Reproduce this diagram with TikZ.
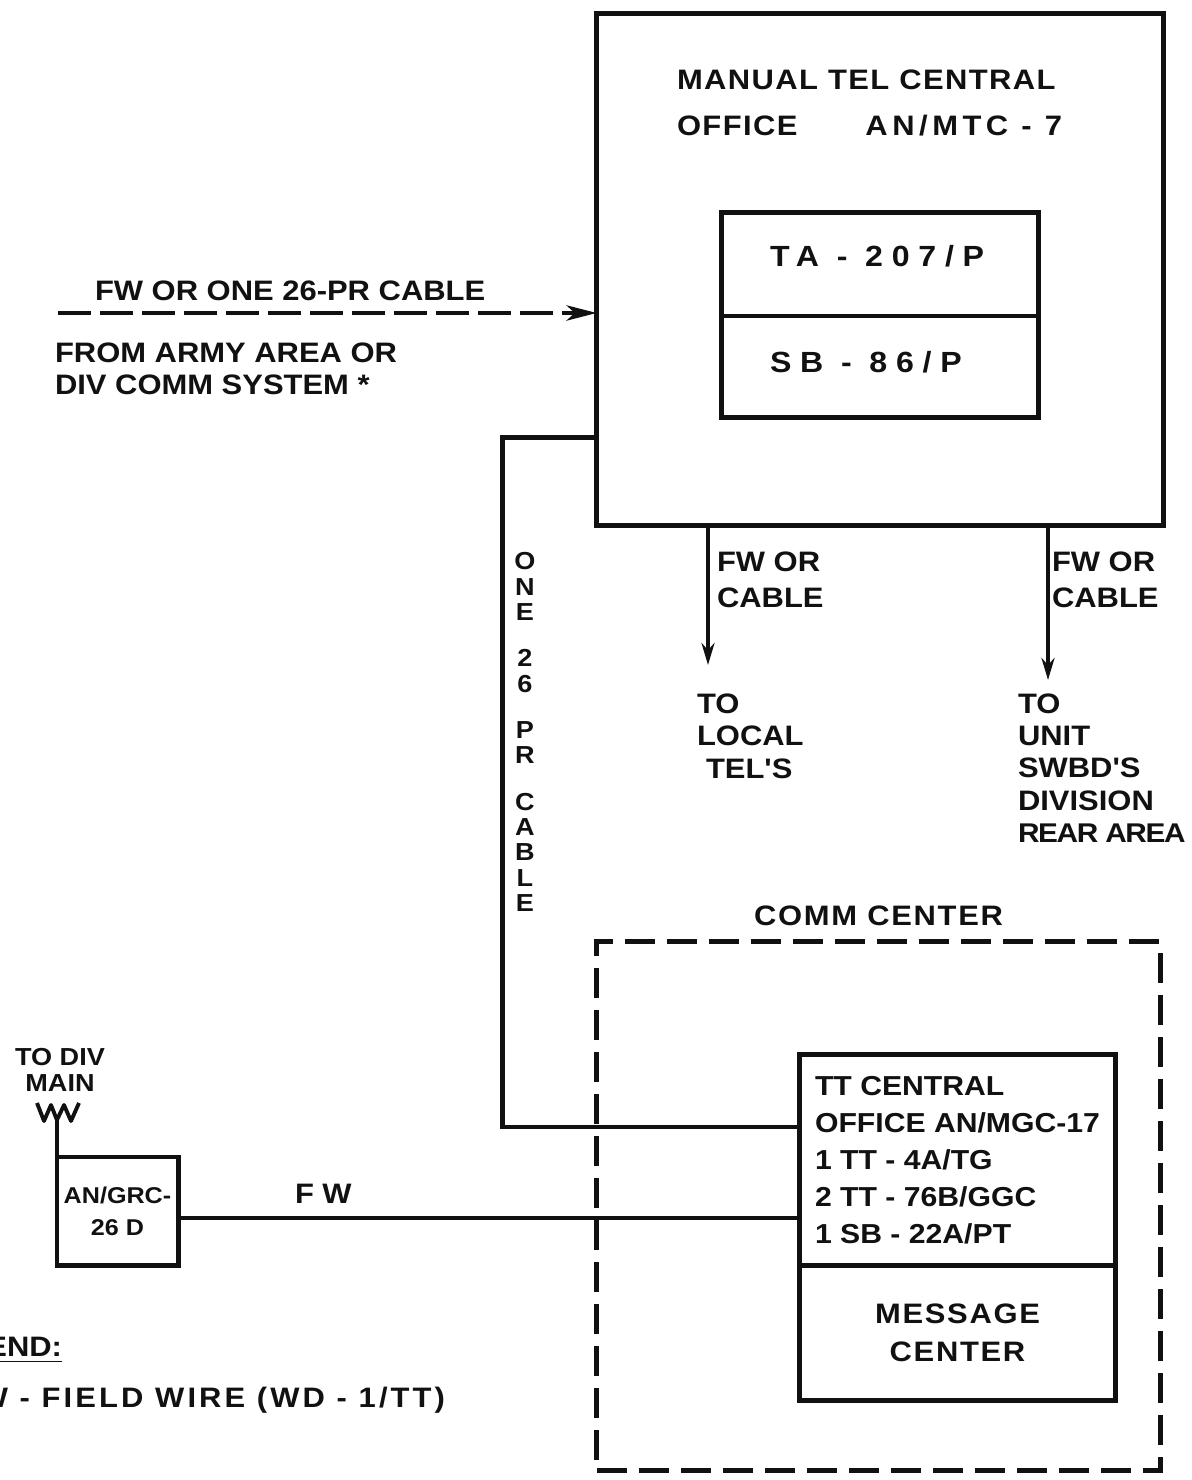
\documentclass[tikz,border=0pt]{standalone}
\usepackage{fontspec}
\newfontfamily\lettering[FakeStretch=1.1]{Liberation Sans}
\usetikzlibrary{arrows.meta,positioning}
\definecolor{ink}{HTML}{111111}
\tikzset{
  every node/.style={font=\lettering\bfseries\fontsize{8}{9.2}\selectfont, text=ink},
  box/.style={draw=ink, line width=1.4pt, outer sep=0pt, inner sep=0pt, align=center},
  commbox/.style={draw=ink, line width=1.4pt, outer sep=0pt, dash pattern=on 0.3cm off 0.12cm},
  lbl/.style={inner sep=0pt, outer sep=0pt, align=left},
  titletext/.style={font=\lettering\bfseries\fontsize{8}{13}\selectfont\addfontfeature{LetterSpace=5}},
  typetext/.style={font=\lettering\bfseries\fontsize{8}{13}\selectfont\addfontfeature{LetterSpace=16}},
  widetext/.style={font=\lettering\bfseries\fontsize{8.3}{9.2}\selectfont\addfontfeature{LetterSpace=30}},
  tttext/.style={font=\lettering\bfseries\fontsize{7.8}{10.5}\selectfont},
  msgtext/.style={font=\lettering\bfseries\fontsize{8}{10.8}\selectfont\addfontfeature{LetterSpace=6}},
  fwtext/.style={font=\lettering\bfseries\fontsize{8}{10.2}\selectfont},
  smalltext/.style={font=\lettering\bfseries\fontsize{6.5}{9}\selectfont},
  tinytext/.style={font=\lettering\bfseries\fontsize{7}{7.2}\selectfont},
  vertext/.style={font=\lettering\bfseries\fontsize{7}{7.2}\selectfont},
  spacedtext/.style={font=\lettering\bfseries\fontsize{8}{9.2}\selectfont\addfontfeature{LetterSpace=6}},
  legendtext/.style={font=\lettering\bfseries\fontsize{8}{9.2}\selectfont\addfontfeature{LetterSpace=11}},
  wire/.style={draw=ink, line width=1.4pt},
  antenna/.style={draw=ink, line width=1.1pt, line join=round},
  arrow/.style={-{Stealth[length=2.2mm,width=1.3mm]}, line width=1.4pt, draw=ink},
  dashedarrow/.style={-{Stealth[length=3mm,width=1.5mm,inset=0.8mm]}, line width=1.4pt, dash pattern=on 0.33cm off 0.09cm, draw=ink},
}

\begin{document}
\begin{tikzpicture}[x=0.01cm, y=-0.01cm]
\useasboundingbox (0,0) rectangle (1191,1480);
% manual central office
\node[box, minimum width=5.66cm, minimum height=5.11cm] (mtc) at (880,269.5) {};
\node[lbl, titletext, anchor=west] (mtcname) at (677,80) {MANUAL TEL CENTRAL};
\node[lbl, titletext, anchor=west] (mtcoffice) at (677,126) {OFFICE};
\node[lbl, typetext, anchor=east] (mtctype) at (1062,126) {AN/MTC - 7};
\node[box, minimum width=3.16cm, minimum height=1.03cm] (ta) at (880,264.5) {};
\node[box, minimum width=3.16cm, minimum height=1.01cm, below=0pt of ta] (sb) {};
\node[lbl, widetext, anchor=west] (tatext) at (770,256) {TA - 207/P};
\node[lbl, widetext, anchor=west] (sbtext) at (770,362) {SB - 86/P};
% incoming line
\coordinate (armyin) at (58,313);
\draw[dashedarrow] (armyin) -- (armyin -| mtc.west);
\node[lbl, anchor=west] (fwcable) at (95,291) {FW OR ONE 26-PR CABLE};
\node[lbl, anchor=west] (army) at (55,369) {FROM ARMY AREA OR\\DIV COMM SYSTEM *};
% outgoing lines
\coordinate (localtel) at (708,665);
\coordinate (unitswbd) at (1048,680);
\draw[arrow] (mtc.south -| localtel) -- (localtel);
\draw[arrow] (mtc.south -| unitswbd) -- (unitswbd);
\node[lbl, fwtext, anchor=west] (fwlocal) at (717,580) {FW OR\\CABLE};
\node[lbl, fwtext, anchor=west] (fwunit) at (1052,580) {FW OR\\CABLE};
\node[lbl, anchor=west] (tolocal) at (697,736) {TO\\LOCAL\\\hspace*{0.09cm}TEL'S};
\node[lbl, anchor=west] (tounit) at (1018,768) {TO\\UNIT\\SWBD'S\\DIVISION\\{\fontsize{7.7}{9.2}\selectfont\addfontfeature{LetterSpace=-5}REAR AREA}};
% comm center
\node[commbox, minimum width=5.63cm, minimum height=5.28cm] (comm) at (878.5,1206) {};
\node[lbl, spacedtext, above=1.6mm of comm] (commlbl) {COMM CENTER};
\node[box, tttext, align=left, minimum width=3.15cm, minimum height=2.10cm] (tt) at (957.5,1160) {TT CENTRAL\\OFFICE AN/MGC-17\\1 TT - 4A/TG\\2 TT - 76B/GGC\\1 SB - 22A/PT};
\node[box, msgtext, minimum width=3.15cm, minimum height=1.35cm, below=0pt of tt] (msg) {MESSAGE\\CENTER};
% cable
\draw[wire] ([yshift=0.88cm]mtc.south west) -- ++(-94,0) |- ([yshift=0.33cm]tt.west);
\node[lbl, vertext, align=center] (cablelbl) at (525,732) {O\\N\\E\\[6pt]2\\6\\[6pt]P\\R\\[6pt]C\\A\\B\\L\\E};
% radio
\node[box, smalltext, minimum width=1.21cm, minimum height=1.08cm] (grc) at (117.5,1211) {AN/GRC-\\26 D};
\draw[wire] ([yshift=-0.07cm]grc.east) -- ([yshift=-0.07cm]grc.east -| tt.west);
\node[lbl, anchor=west] (fwlbl) at (295,1194) {F W};
\draw[wire] (grc.north west) -- ++(0,-37) coordinate (mast);
\draw[antenna] (37,1103) -- (44,1121) -- (51,1105) -- (mast) -- (64,1105) -- (71,1121) -- (79,1103);
\node[lbl, tinytext, align=center] (todiv) at (60,1070) {TO DIV\\MAIN};
% legend
\node[lbl, anchor=east] (legend) at (62,1350) {\underline{LEGEND:}};
\node[lbl, legendtext, anchor=east] (legfw) at (445,1400) {FW - FIELD WIRE (WD - 1/TT)};
\end{tikzpicture}
\end{document}
